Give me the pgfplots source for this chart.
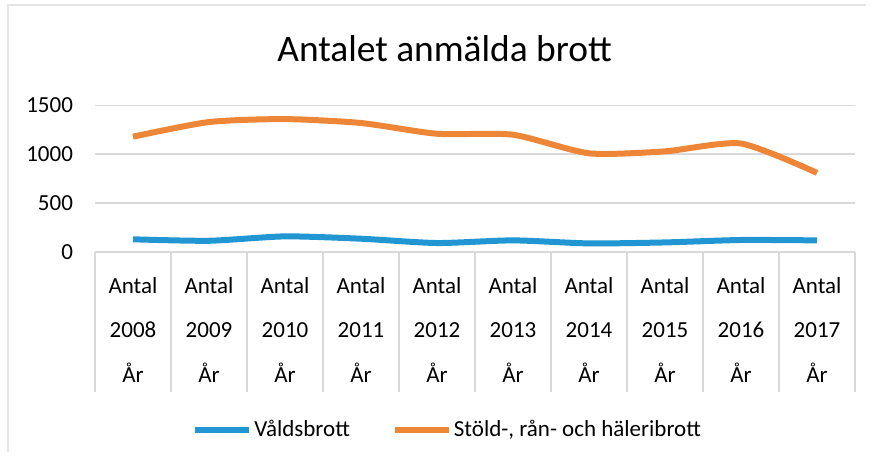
\documentclass[border=0pt]{standalone}
\usepackage{fontspec}
\setmainfont{Carlito}
\usepackage{pgfplots}
\pgfplotsset{compat=1.18}

\definecolor{vald}{RGB}{33,150,211}
\definecolor{stold}{RGB}{238,134,56}
\definecolor{gridgray}{RGB}{217,217,217}

% 1 px of the reference = 0.5pt
\begin{document}
\begin{tikzpicture}
\begin{axis}[
    name=ax,
    scale only axis,
    width=380pt,
    height=73.3pt,
    xmin=-0.5, xmax=9.5,
    ymin=0, ymax=1500,
    ytick={0,500,1000,1500},
    xtick={0,...,9},
    xticklabels={Antal\\2008\\År, Antal\\2009\\År, Antal\\2010\\År, Antal\\2011\\År, Antal\\2012\\År,
                 Antal\\2013\\År, Antal\\2014\\År, Antal\\2015\\År, Antal\\2016\\År, Antal\\2017\\År},
    xticklabel style={align=center, font=\fontsize{11.5}{22.4}\selectfont, anchor=north, yshift=-9pt},
    yticklabel style={font=\fontsize{11.5}{13}\selectfont, xshift=-7.5pt},
    /pgf/number format/assume math mode=true,
    /pgf/number format/set thousands separator={},
    major tick length=0pt,
    xtick pos=lower, ytick pos=left,
    axis line style={draw=none},
    ymajorgrids,
    grid style={gridgray, line width=0.8pt},
    extra x ticks={-0.5,0.5,...,9.5},
    extra x tick labels={},
    extra x tick style={major tick length=70pt, tick align=outside, grid=none,
        tick style={gridgray, line width=0.8pt}},
    legend style={draw=none, at={(0.464,-1.214)}, anchor=center,
        font=\fontsize{11.5}{13}\selectfont,
        nodes={inner sep=1pt},
        /tikz/every even column/.append style={column sep=20pt}},
    legend columns=2,
    legend image code/.code={\draw[#1, line width=3pt] (0pt,0pt) -- (27pt,0pt);},
    title={\fontsize{18.7}{22}\selectfont Antalet anmälda brott},
    title style={at={(0.460,1.303)}, anchor=center},
]
\addplot[vald, line width=3pt, smooth, tension=0.4] coordinates {
    (0,130) (1,115) (2,160) (3,136) (4,92) (5,119) (6,88) (7,98) (8,123) (9,119)
};
\addlegendentry{Våldsbrott}
\addplot[stold, line width=3pt, smooth, tension=0.4] coordinates {
    (0,1180) (1,1330) (2,1360) (3,1320) (4,1210) (5,1200) (6,1010) (7,1030) (8,1110) (9,810)
};
\addlegendentry{Stöld-, rån- och häleribrott}
\end{axis}
\pgfresetboundingbox
\path[use as bounding box] (ax.south west) ++(-47.5pt,-105.5pt) rectangle ++(436pt,231.5pt);
\draw[gridgray!70, line width=0.6pt] (ax.south west) ++(-43.5pt,-100pt) |- ++(429pt,223.5pt);
\end{tikzpicture}
\end{document}
